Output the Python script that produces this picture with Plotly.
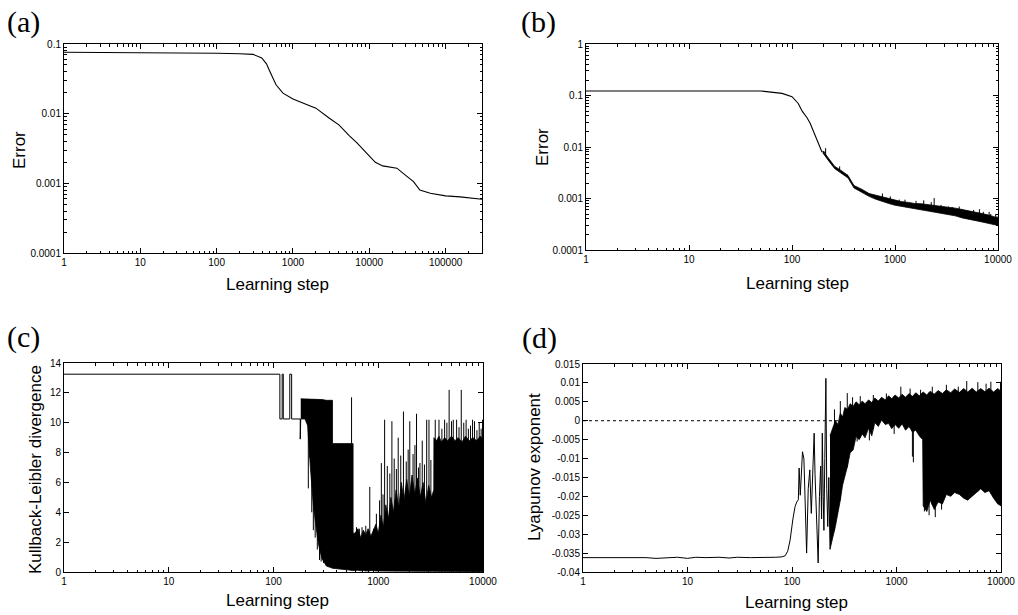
import numpy as np
import plotly.graph_objects as go

W, H = 1018, 615

# ---------------- data ----------------
# (a) error vs learning step
a_step = [1, 10, 50, 100, 200, 300, 390, 450, 490, 540, 600, 740, 1000, 1400, 2000,
          3000, 4000, 5500, 6900, 9300, 12000, 15000, 23000, 30000, 38000, 46000,
          63000, 100000, 155000, 300000]
a_error = [0.076, 0.0755, 0.0745, 0.0735, 0.0725, 0.071, 0.063, 0.052, 0.042, 0.033,
           0.026, 0.0197, 0.0162, 0.014, 0.012, 0.0086, 0.0069, 0.0048, 0.0038, 0.0027,
           0.0020, 0.00178, 0.00165, 0.0013, 0.00106, 0.0008, 0.00072, 0.00066,
           0.00064, 0.00059]

# (b) error vs learning step
b_step = [1, 50, 80, 100, 115, 126, 140, 150, 175, 195, 212]
b_error = [0.122, 0.122, 0.11, 0.095, 0.07, 0.049, 0.037, 0.029, 0.0137, 0.0081, 0.0079]
b_band_step = [200, 230, 260, 300, 350, 400, 480, 560, 650, 750, 870, 1000, 1150, 1350,
               1550, 1800, 2100, 2450, 2850, 3300, 3850, 4500, 5200, 6000, 7000, 8000,
               9000, 10000]
b_band_hi = [0.0084, 0.0058, 0.0042, 0.0035, 0.0028, 0.00178, 0.0015, 0.00125, 0.00116,
             0.00105, 0.00098, 0.00091, 0.00087, 0.00084, 0.0008, 0.00079, 0.00076,
             0.00073, 0.00072, 0.00068, 0.00065, 0.00061, 0.00058, 0.00054, 0.00051,
             0.00048, 0.00045, 0.00042]
b_band_lo = [0.0076, 0.0052, 0.0038, 0.0031, 0.0025, 0.0016, 0.00132, 0.0011, 0.00097,
             0.00087, 0.0008, 0.00074, 0.0007, 0.00066, 0.00062, 0.0006, 0.00057,
             0.00054, 0.00052, 0.00049, 0.00046, 0.00042, 0.0004, 0.00037, 0.00035,
             0.00033, 0.00031, 0.0003]
b_spike_step = [212, 290, 345, 755, 900, 1100, 1250, 1600, 1900, 2250, 2400, 2800, 3300,
                3600, 4200, 4500, 5000, 5800, 6600, 7200, 8200, 8500, 9500, 9800]
b_spike_error = [0.0095, 0.0042, 0.0029, 0.00125, 0.0011, 0.00095, 0.00095, 0.0009,
                 0.00092, 0.00085, 0.00102, 0.00075, 0.0007, 0.00068, 0.0007, 0.00062,
                 0.00058, 0.0006, 0.00062, 0.00055, 0.00055, 0.0005, 0.0005, 0.00045]

# (c) Kullback-Leibler divergence
c_step = [1, 115, 115, 121, 121, 124, 124, 143, 143, 149, 149, 180, 180, 182]
c_kl = [13.25, 13.25, 10.25, 10.25, 13.25, 13.25, 10.25, 10.25, 13.25, 13.25, 10.25,
        10.25, 8.9, 10.25]
c_band_step = [182, 200, 212, 225, 240, 255, 270, 290, 320, 350, 366, 366, 400, 500,
               575, 575, 600, 640, 680, 720, 760, 800, 850, 900, 950, 1000, 1060, 1120,
               1180, 1250, 1320, 1400, 1480, 1570, 1660, 1760, 1870, 1980, 2100, 2230,
               2370, 2520, 2680, 2850, 3030, 3220, 3390, 3400, 3600, 3800, 4000, 4300,
               4600, 5000, 5400, 5800, 6300, 6800, 7400, 8000, 8700, 9400, 10000]
c_band_hi = [11.6, 11.6, 11.6, 11.6, 11.55, 11.6, 11.55, 11.55, 11.5, 11.5, 11.5, 8.6,
             8.6, 8.6, 8.6, 2.6, 2.6, 2.9, 2.3, 2.8, 2.5, 2.9, 2.4, 2.8, 3.2, 2.6, 3.8,
             3.0, 4.5, 3.6, 5.0, 4.0, 5.5, 4.3, 6.0, 4.8, 6.2, 5.0, 6.5, 5.2, 6.3, 5.0,
             6.0, 4.6, 5.8, 5.0, 5.5, 9.0, 8.8, 9.1, 8.7, 9.0, 8.8, 9.1, 8.8, 9.0, 8.7,
             9.1, 8.8, 9.0, 8.8, 9.1, 8.9]
c_band_lo = [10.25, 10.25, 9.8, 7.0, 4.5, 3.0, 1.8, 0.9, 0.4, 0.3, 0.25, 0.25, 0.2,
             0.15, 0.1, 0.1, 0.1, 0.12, 0.08, 0.1, 0.07, 0.1, 0.08, 0.1, 0.07, 0.08, 0.06,
             0.07, 0.05, 0.06, 0.05, 0.06, 0.05, 0.05, 0.05, 0.05, 0.05, 0.04, 0.05, 0.04,
             0.05, 0.04, 0.05, 0.04, 0.05, 0.04, 0.05, 0.05, 0.04, 0.03, 0.04, 0.03, 0.04,
             0.03, 0.04, 0.03, 0.03, 0.04, 0.03, 0.03, 0.03, 0.03, 0.03]
c_dip_step = [215, 222, 232, 240, 250, 262, 275, 285, 300]
c_dip_kl = [5.6, 8.8, 4.0, 2.8, 2.3, 1.5, 0.8, 0.7, 0.6]
c_spike_step = [556, 620, 660, 700, 760, 830, 900, 960, 1030, 1070, 1110, 1150, 1220,
                1290, 1350, 1420, 1490, 1550, 1640, 1740, 1850, 1930, 2000, 2150, 2240,
                2320, 2420, 2500, 2630, 2760, 2900, 3050, 3180, 3500, 3800, 4050, 4300,
                4520, 4750, 5000, 5200, 5600, 5900, 6200, 6550, 6900, 7250, 7600, 7950,
                8300, 8750, 9200, 9600, 9900]
c_spike_kl = [11.7, 3.0, 2.9, 3.0, 3.1, 5.7, 2.9, 3.9, 4.8, 7.3, 5.2, 10.2, 7.1, 6.6,
              10.1, 7.6, 6.9, 9.0, 7.8, 10.75, 7.4, 8.2, 10.1, 7.9, 8.5, 10.6, 7.0, 7.3,
              8.8, 7.2, 10.2, 10.2, 7.5, 10.2, 10.2, 9.6, 10.2, 10.0, 12.2, 10.1, 10.2,
              10.2, 9.7, 12.2, 10.0, 10.2, 9.6, 9.8, 10.2, 10.1, 9.5, 10.0, 9.6, 10.2]

# (d) Lyapunov exponent
d_step = [1, 2, 3, 4, 5, 6, 7, 8, 10, 12, 15, 20, 25, 30, 40, 50, 60, 70, 80, 86, 91,
          96, 102, 107, 111, 115, 117, 120, 124, 126, 130, 134, 138, 143, 148, 153, 158,
          163, 166, 170, 174, 178, 183, 188, 192, 195, 199, 202, 206, 211, 215, 220,
          225, 231]
d_lyap = [-0.0362, -0.0362, -0.0361, -0.0362, -0.0364, -0.0363, -0.0361, -0.0361,
          -0.0364, -0.0361, -0.0362, -0.0361, -0.0363, -0.0361, -0.0362, -0.0362,
          -0.0361, -0.0361, -0.0360, -0.0357, -0.0345, -0.0315, -0.026, -0.0227,
          -0.0215, -0.0209, -0.0125, -0.0197, -0.012, -0.0082, -0.0101, -0.025, -0.035,
          -0.018, -0.013, -0.0245, -0.012, -0.0033, -0.014, -0.022, -0.03, -0.0376,
          -0.02, -0.012, -0.026, -0.0033, -0.02, -0.029, -0.01, 0.0112, -0.018, -0.028,
          -0.015, -0.034]
d_band_step = [231, 245, 260, 275, 290, 305, 320, 340, 360, 385, 410, 440, 470, 500,
               540, 580, 620, 670, 720, 780, 840, 900, 970, 1050, 1130, 1220, 1320, 1420,
               1530, 1650, 1780, 1800, 1950, 2100, 2300, 2500, 2750, 3000, 3300, 3600,
               4000, 4400, 4800, 5300, 5800, 6400, 7000, 7700, 8500, 9300, 10000]
d_band_hi = [-0.004, -0.002, 0.0, -0.001, 0.002, 0.001, 0.0035, 0.003, 0.0045, 0.0038,
             0.005, 0.0042, 0.0052, 0.0045, 0.0055, 0.0048, 0.006, 0.0052, 0.0062,
             0.0055, 0.0066, 0.0058, 0.0068, 0.006, 0.007, 0.0062, 0.0072, 0.0064,
             0.0074, 0.0066, 0.0076, 0.0076, 0.0068, 0.0078, 0.007, 0.008, 0.0072,
             0.0082, 0.0074, 0.0084, 0.0075, 0.0085, 0.0076, 0.0086, 0.0076, 0.0085,
             0.0077, 0.0086, 0.0076, 0.0085, 0.0078]
d_band_lo = [-0.034, -0.031, -0.028, -0.025, -0.021, -0.017, -0.0148, -0.012, -0.0085,
             -0.0077, -0.0042, -0.005, -0.0035, -0.0045, -0.002, -0.004, -0.0005,
             -0.0015, 0.0002, -0.001, -0.0007, -0.0021, -0.001, -0.002, -0.0008, -0.0025,
             -0.0015, -0.003, -0.0025, -0.004, -0.005, -0.0225, -0.024, -0.021, -0.0235,
             -0.0215, -0.022, -0.0195, -0.02, -0.019, -0.0195, -0.0205, -0.021, -0.02,
             -0.019, -0.018, -0.019, -0.0185, -0.0205, -0.022, -0.0225]
d_spike_step = [255, 290, 338, 380, 450, 600, 800, 1100, 1350, 1700, 2200, 3000, 3900,
                4700, 6000, 7200, 8000, 9900,
                420, 550, 950, 1420, 1450, 1850, 2350, 2050, 2700]
d_spike_lyap = [0.003, 0.0052, 0.0073, 0.0062, 0.0065, 0.0068, 0.0072, 0.009, 0.0085,
                0.0082, 0.009, 0.0095, 0.009, 0.0105, 0.0102, 0.0098, 0.0103, 0.0103,
                -0.0055, -0.0052, -0.0035, -0.0095, -0.011, -0.024, -0.0255, -0.025,
                -0.0235]

# ---------------- helpers ----------------
def xdom(x0, x1):
    return [x0 / W, x1 / W]

def ydom(y0, y1):
    return [1 - y1 / H, 1 - y0 / H]

def log_minor(d0, d1):
    return [m * 10 ** d for d in range(d0, d1) for m in range(2, 10)]

tickfont = dict(family="Liberation Sans", size=10, color="black")
base_axis = dict(showline=True, linecolor="black", linewidth=1, mirror="ticks",
                 ticks="inside", ticklen=5, tickwidth=1, tickcolor="black",
                 showgrid=False, zeroline=False, tickfont=tickfont, automargin=False)

def log_axis(lo, hi, vals, texts, dom):
    ax = dict(base_axis)
    ax.update(type="log", range=[np.log10(lo), np.log10(hi)], tickmode="array",
              tickvals=vals, ticktext=texts, domain=dom,
              minor=dict(ticks="inside", ticklen=2.5, tickcolor="black", tickwidth=1,
                         tickvals=log_minor(int(np.floor(np.log10(lo))),
                                            int(np.ceil(np.log10(hi)))),
                         showgrid=False))
    return ax

def lin_axis(lo, hi, vals, texts, dom):
    ax = dict(base_axis)
    ax.update(type="linear", range=[lo, hi], tickmode="array", tickvals=vals,
              ticktext=texts, domain=dom)
    return ax

def band(xs, hi, lo, xa, ya):
    return go.Scatter(x=list(xs) + list(xs)[::-1], y=list(hi) + list(lo)[::-1],
                      fill="toself", fillcolor="black", mode="lines",
                      line=dict(color="black", width=0.8), xaxis=xa, yaxis=ya,
                      showlegend=False, hoverinfo="skip")

def spikes(xs, ys, base_x, base_hi, base_lo, xa, ya, log_y=False):
    sx, sy = [], []
    for x, y in zip(xs, ys):
        hi = np.interp(np.log10(x), np.log10(base_x), base_hi)
        lo = np.interp(np.log10(x), np.log10(base_x), base_lo)
        b = hi if y < lo else lo
        if log_y:
            b = np.sqrt(hi * lo)
        sx += [x, x, None]
        sy += [b, y, None]
    return go.Scatter(x=sx, y=sy, mode="lines", line=dict(color="black", width=1),
                      xaxis=xa, yaxis=ya, showlegend=False, hoverinfo="skip")

def line(xs, ys, xa, ya, width=1.1, dash=None):
    return go.Scatter(x=xs, y=ys, mode="lines",
                      line=dict(color="black", width=width, dash=dash),
                      xaxis=xa, yaxis=ya, showlegend=False, hoverinfo="skip")

fig = go.Figure()

# (a)
fig.add_trace(line(a_step, a_error, "x", "y"))
# (b)
fig.add_trace(line(b_step, b_error, "x2", "y2"))
fig.add_trace(band(b_band_step, b_band_hi, b_band_lo, "x2", "y2"))
fig.add_trace(spikes(b_spike_step, b_spike_error, b_band_step, b_band_hi, b_band_lo,
                     "x2", "y2", log_y=True))
# (c)
fig.add_trace(line(c_step, c_kl, "x3", "y3", width=1))
fig.add_trace(band(c_band_step, c_band_hi, c_band_lo, "x3", "y3"))
fig.add_trace(spikes(c_dip_step, c_dip_kl, c_band_step, c_band_hi, c_band_lo, "x3", "y3"))
fig.add_trace(spikes(c_spike_step, c_spike_kl, c_band_step, c_band_hi, c_band_lo, "x3", "y3"))
# (d)
fig.add_trace(line([1, 10000], [0, 0], "x4", "y4", width=1, dash="dot"))
fig.add_trace(line(d_step, d_lyap, "x4", "y4", width=1))
fig.add_trace(band(d_band_step, d_band_hi, d_band_lo, "x4", "y4"))
fig.add_trace(spikes(d_spike_step, d_spike_lyap, d_band_step, d_band_hi, d_band_lo, "x4", "y4"))

dec4 = [1, 10, 100, 1000, 10000]
dec4_t = ["1", "10", "100", "1000", "10000"]

layout = dict(
    template="none",
    width=W, height=H, margin=dict(l=0, r=0, t=0, b=0, pad=0, autoexpand=False),
    paper_bgcolor="white", plot_bgcolor="white", showlegend=False,
    xaxis=log_axis(1, 300000, [1, 10, 100, 1000, 10000, 100000],
                   ["1", "10", "100", "1000", "10000", "100000"], xdom(64, 482)),
    yaxis=log_axis(0.0001, 0.1, [0.0001, 0.001, 0.01, 0.1],
                   ["0.0001", "0.001", "0.01", "0.1"], ydom(44, 253)),
    xaxis2=log_axis(1, 10000, dec4, dec4_t, xdom(586, 998)),
    yaxis2=log_axis(0.0001, 1, [0.0001, 0.001, 0.01, 0.1, 1],
                    ["0.0001", "0.001", "0.01", "0.1", "1"], ydom(44, 250)),
    xaxis3=log_axis(1, 10000, dec4, dec4_t, xdom(64, 483)),
    yaxis3=lin_axis(0, 14, [0, 2, 4, 6, 8, 10, 12, 14],
                    ["0", "2", "4", "6", "8", "10", "12", "14"], ydom(363, 572)),
    xaxis4=log_axis(1, 10000, dec4, dec4_t, xdom(583, 1001)),
    yaxis4=lin_axis(-0.04, 0.015,
                    [-0.04, -0.035, -0.03, -0.025, -0.02, -0.015, -0.01, -0.005, 0,
                     0.005, 0.01, 0.015],
                    ["-0.04", "-0.035", "-0.03", "-0.025", "-0.02", "-0.015", "-0.01",
                     "-0.005", "0", "0.005", "0.01", "0.015"], ydom(364, 572)),
)
for i, ax in [("", "y"), ("2", "y2"), ("3", "y3"), ("4", "y4")]:
    layout["xaxis" + i]["anchor"] = ax
    layout["yaxis" + i]["anchor"] = "x" + i

fig.update_layout(**layout)

title_font = dict(family="Liberation Sans", size=17, color="black")
letter_font = dict(family="Liberation Serif", size=30, color="black")

def ann(text, px, py, font, angle=0, xanchor="center"):
    fig.add_annotation(text=text, x=px / W, y=1 - py / H, xref="paper", yref="paper",
                       showarrow=False, font=font, textangle=angle,
                       xanchor=xanchor, yanchor="middle")

ann("Error", 19, 150, title_font, -90)
ann("Learning step", 277, 284, title_font)
ann("Error", 542, 147, title_font, -90)
ann("Learning step", 797, 283, title_font)
ann("Kullback-Leibler divergence", 35, 470, title_font, -90)
ann("Learning step", 277, 600, title_font)
ann("Lyapunov exponent", 534, 467, title_font, -90)
ann("Learning step", 796, 602, title_font)

ann("(a)", 23, 22, letter_font)
ann("(b)", 538, 22, letter_font)
ann("(c)", 23, 337, letter_font)
ann("(d)", 539, 338, letter_font)

fig.write_html("out.html", config={"displayModeBar": False},
               post_script="document.body.style.margin='0px';"
                           "document.body.style.overflow='hidden';")
